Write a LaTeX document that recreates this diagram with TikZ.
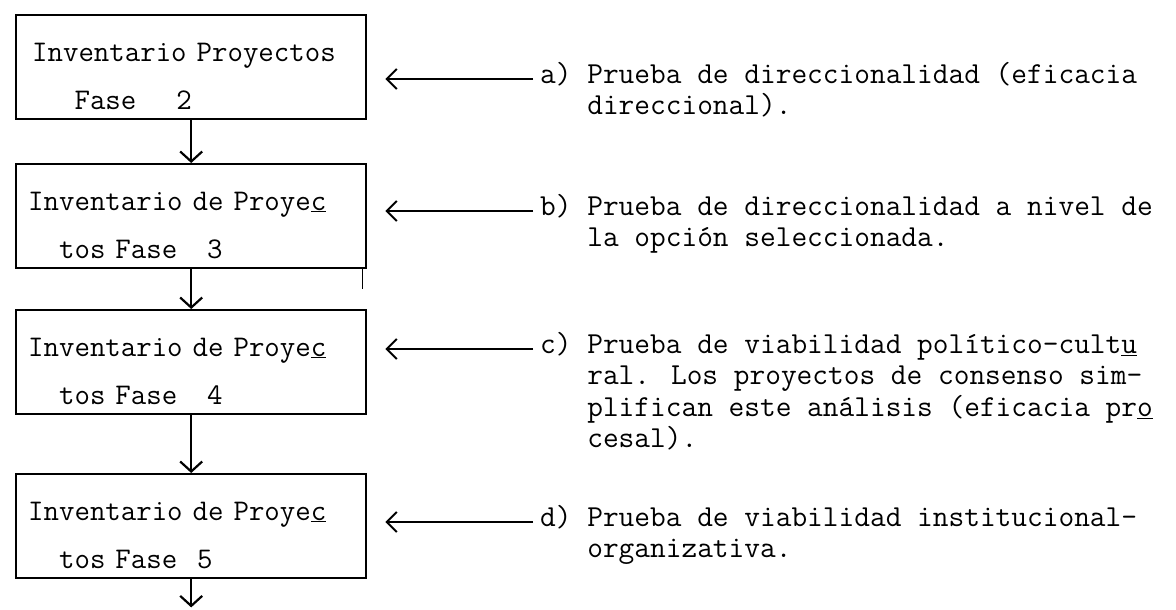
\documentclass[tikz,border=0pt]{standalone}
\usepackage{fontspec}
\usetikzlibrary{arrows.meta}
\def\BoxWidth{350}
\def\BoxHeight{104}

\begin{document}
\begin{tikzpicture}[x=1pt,y=-1pt,
  phase/.style={draw, line width=2.4pt, anchor=north west,
    minimum width=\BoxWidth pt, minimum height=\BoxHeight pt,
    text width=326pt, inner xsep=12pt, inner ysep=0pt, align=left,
    font=\fontsize{30}{48}\selectfont\ttfamily\addfontfeatures{FakeBold=1.5}},
  note/.style={inner sep=0pt, align=left, anchor=north west,
    font=\fontsize{30.5}{31.5}\selectfont\ttfamily\addfontfeatures{FakeBold=1.2}},
  flow/.style={-{Straight Barb[length=10pt,width=22pt]}, line width=2.2pt},
  pointer/.style={-{Straight Barb[length=10pt,width=20pt]}, line width=2pt, shorten >=18pt}]
  \useasboundingbox (0,0) rectangle (1176,610);
  % phases
  \node[phase] (inv2) at (15,14) {\rule{0pt}{36pt}\hspace*{4pt}Inventario Proyectos\\ \phantom{000}Fase\ \ \ \ 2};
  \node[phase] (inv3) at (15,163) {\rule{0pt}{36pt}Inventario de Proye\underline{c}\\ \phantom{00}tos Fase\ \ \ 3};
  \node[phase] (inv4) at (15,309) {\rule{0pt}{36pt}Inventario de Proye\underline{c}\\ \phantom{00}tos Fase\ \ \ 4};
  \node[phase] (inv5) at (15,473) {\rule{0pt}{36pt}Inventario de Proye\underline{c}\\ \phantom{00}tos Fase\ \ 5};
  \path (inv5.south) ++(0,28) coordinate (out);
  % flow
  \draw[flow] (inv2.south) -- (inv3.north);
  \draw[flow] (inv3.south) -- (inv4.north);
  \draw[flow] (inv4.south) -- (inv5.north);
  \draw[flow] (inv5.south) -- (out);
  \draw[line width=1.8pt] ([xshift=-5pt]inv3.south east) -- ++(0,20);
  % tests
  \coordinate (ta) at (533,79);
  \coordinate (tb) at (533,211);
  \coordinate (tc) at (533,349);
  \coordinate (td) at (533,522);
  \node[note] (testa) at ([xshift=7pt,yshift=17pt]ta) {a) Prueba de direccionalidad (eficacia\\ \phantom{a) }direccional).};
  \node[note] (testb) at ([xshift=7pt,yshift=17pt]tb) {b) Prueba de direccionalidad a nivel de\\ \phantom{b) }la opción seleccionada.};
  \node[note] (testc) at ([xshift=7pt,yshift=17pt]tc) {c) Prueba de viabilidad político-cult\underline{u}\\ \phantom{c) }ral. Los proyectos de consenso sim-\\ \phantom{c) }plifican este análisis (eficacia pr\underline{o}\\ \phantom{c) }cesal).};
  \node[note] (testd) at ([xshift=7pt,yshift=17pt]td) {d) Prueba de viabilidad institucional-\\ \phantom{d) }organizativa.};
  % pointers
  \draw[pointer] (ta) -- (inv2.east |- ta);
  \draw[pointer] (tb) -- (inv3.east |- tb);
  \draw[pointer] (tc) -- (inv4.east |- tc);
  \draw[pointer] (td) -- (inv5.east |- td);
\end{tikzpicture}
\end{document}
